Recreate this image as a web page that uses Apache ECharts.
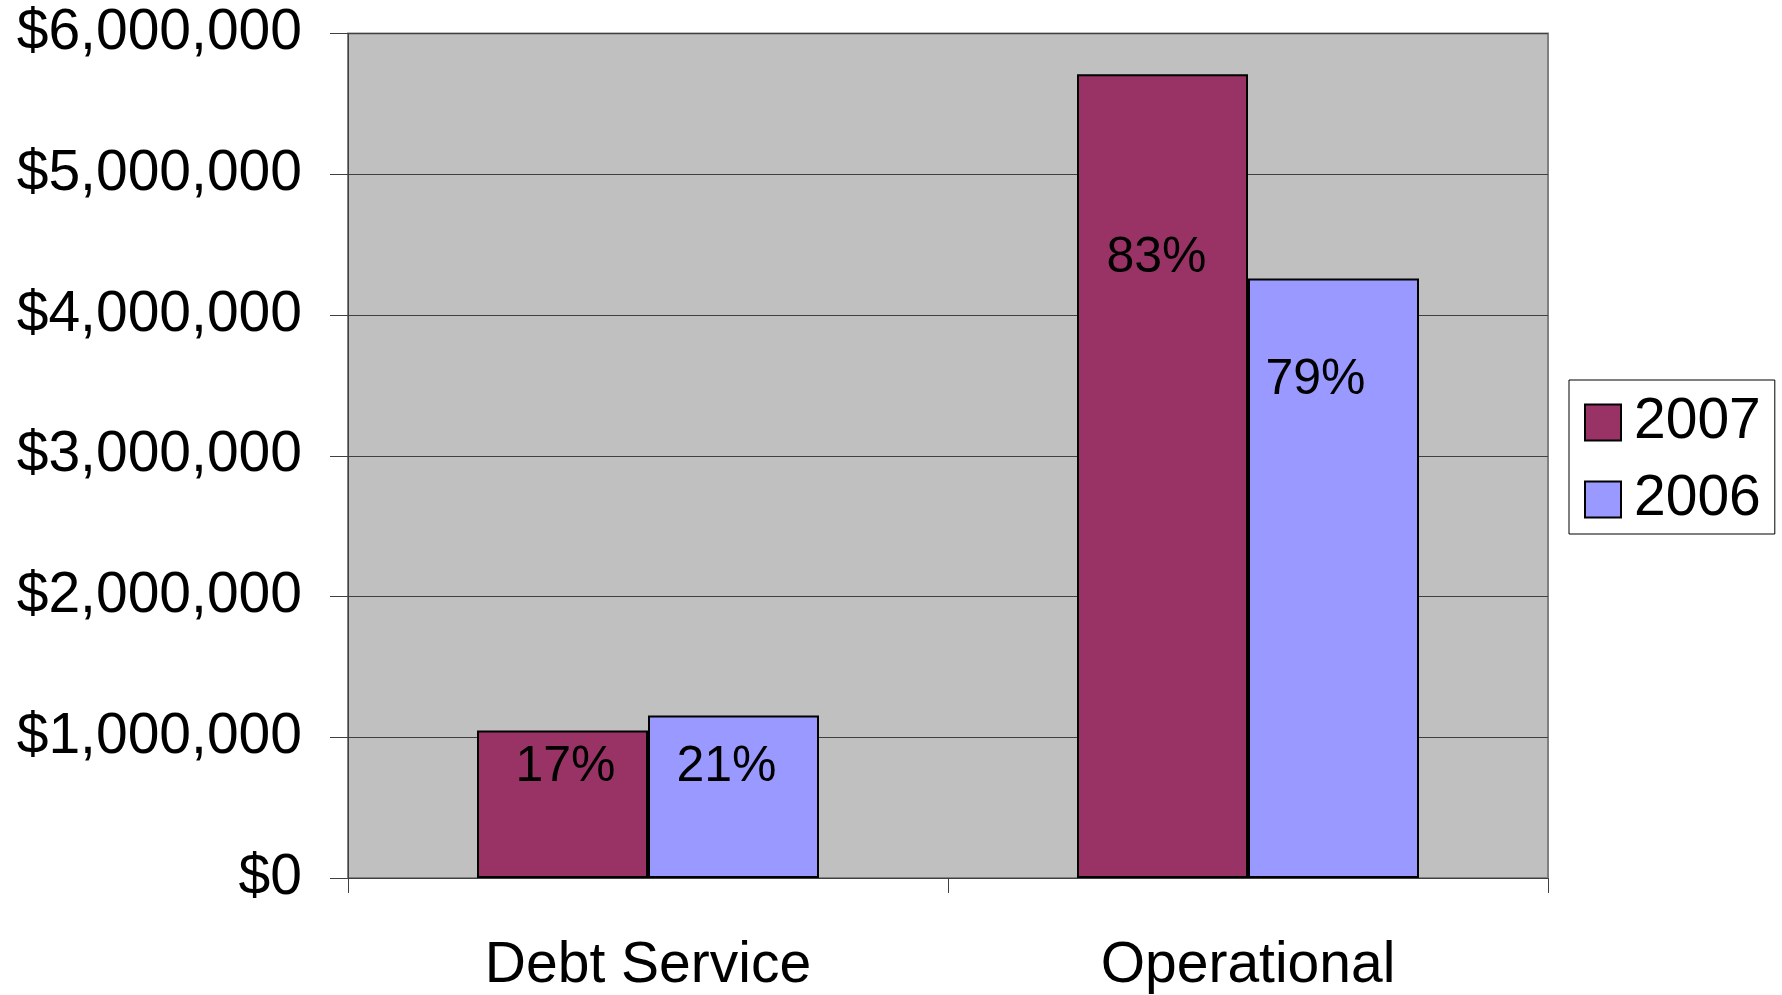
<!DOCTYPE html>
<html>
<head>
<meta charset="utf-8">
<script src="https://cdn.jsdelivr.net/npm/echarts@6/dist/echarts.min.js"></script>
<style>
html, body { margin: 0; padding: 0; background: #fff; }
#chart { width: 1782px; height: 995px; }
</style>
</head>
<body>
<div id="chart"></div>
<script>
const categories = ['Debt Service', 'Operational'];
const seriesNames = ['2007', '2006'];
const values2007 = [1048000, 5711000];
const values2006 = [1155000, 4259000];
const share2007 = ['17%', '83%'];
const share2006 = ['21%', '79%'];
const yTicks = [0, 1000000, 2000000, 3000000, 4000000, 5000000, 6000000];

// hand-placed text boxes in the original: distance below bar top, x shift
const labelPos2007 = [[37, 3], [184, -6]];
const labelPos2006 = [[52, -7], [102, -18]];

const font = '"Liberation Sans", Arial, sans-serif';

function buildData(values, shares, pos) {
    return values.map((v, i) => ({
        value: v,
        label: {
            formatter: shares[i],
            position: ['50%', pos[i][0]],
            offset: [pos[i][1], 0],
        },
    }));
}

const chart = echarts.init(document.getElementById('chart'));

const barLabel = {
    show: true,
    align: 'center',
    verticalAlign: 'middle',
    color: '#000',
    fontFamily: font,
    fontSize: 50,
};

const option = {
    animation: false,
    backgroundColor: '#fff',
    grid: {
        left: 348,
        right: 234,
        top: 33.5,
        bottom: 115.5,
        show: true,
        backgroundColor: '#C0C0C0',
        borderColor: '#808080',
        borderWidth: 2,
    },
    legend: {
        orient: 'vertical',
        left: 1569,
        top: 380,
        padding: [14, 14, 6, 15],
        backgroundColor: '#fff',
        borderColor: '#000',
        borderWidth: 1,
        borderRadius: 0,
        itemWidth: 36,
        itemHeight: 36,
        itemGap: 20,
        icon: 'rect',
        textStyle: {
            fontFamily: font,
            fontSize: 57,
            lineHeight: 57,
            color: '#000',
            padding: [0, 0, 0, 8],
        },
        data: seriesNames,
    },
    xAxis: {
        type: 'category',
        data: categories,
        axisLine: { lineStyle: { color: '#404040', width: 1 } },
        axisTick: { show: true, length: 15, alignWithLabel: false, lineStyle: { color: '#404040' } },
        axisLabel: {
            interval: 0,
            margin: 60,
            color: '#000',
            fontFamily: font,
            fontSize: 57,
        },
        splitLine: { show: false },
    },
    yAxis: {
        type: 'value',
        min: yTicks[0],
        max: yTicks[yTicks.length - 1],
        interval: yTicks[1] - yTicks[0],
        axisLine: { show: true, lineStyle: { color: '#404040', width: 1 } },
        axisTick: { show: true, length: 18, lineStyle: { color: '#404040' } },
        axisLabel: {
            margin: 46,
            color: '#000',
            fontFamily: font,
            fontSize: 57,
            padding: [3, 0, 0, 0],
            formatter: (v) => '$' + v.toLocaleString('en-US'),
        },
        splitLine: { show: true, lineStyle: { color: '#404040', width: 1 } },
    },
    series: [
        {
            name: seriesNames[0],
            type: 'bar',
            barGap: '0%',
            barCategoryGap: '43%',
            itemStyle: { color: '#993366', borderColor: '#000', borderWidth: 2 },
            label: barLabel,
            data: buildData(values2007, share2007, labelPos2007),
        },
        {
            name: seriesNames[1],
            type: 'bar',
            barGap: '0%',
            barCategoryGap: '43%',
            itemStyle: { color: '#9999FF', borderColor: '#000', borderWidth: 2 },
            label: barLabel,
            data: buildData(values2006, share2006, labelPos2006),
        },
    ],
};

option && chart.setOption(option);
</script>
</body>
</html>
